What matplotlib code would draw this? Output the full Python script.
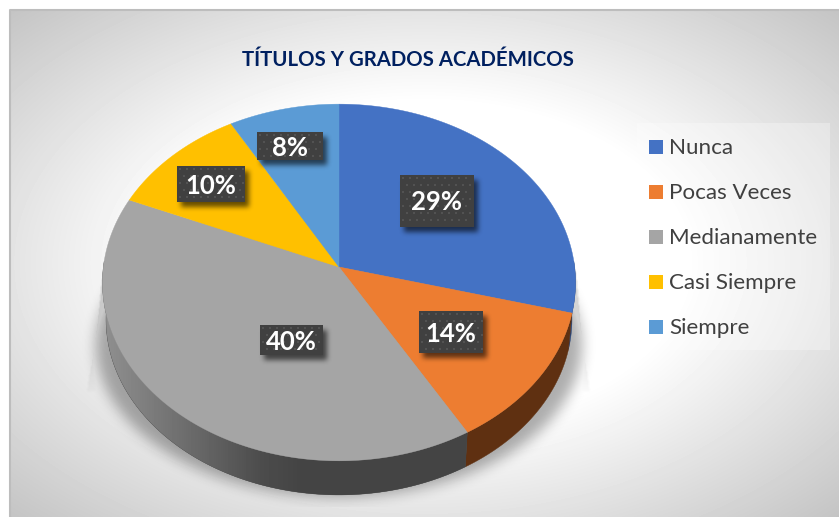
import numpy as np
import matplotlib
matplotlib.use("Agg")
import matplotlib.pyplot as plt
from matplotlib.colors import to_rgb
from matplotlib.patches import Polygon, Rectangle
from matplotlib.path import Path

# --------------------------------------------------------------
# Data
# --------------------------------------------------------------
title = "TÍTULOS Y GRADOS ACADÉMICOS"
categories = ["Nunca", "Pocas Veces", "Medianamente", "Casi Siempre", "Siempre"]
slice_shares = [29.1, 12.5, 39.8, 10.4, 8.2]
pct_labels = ["29%", "14%", "40%", "10%", "8%"]

colors = ["#4472C4", "#ED7D31", "#A5A5A5", "#FFC000", "#5B9BD5"]
side_colors = ["#294476", "#5F3011", "#444444", "#806000", "#2F5B85"]

W, H = 839, 517
plt.rcParams["font.family"] = ["Lato", "DejaVu Sans"]

fig = plt.figure(figsize=(W / 100, H / 100), dpi=100, facecolor="white")
ax = fig.add_axes([0, 0, 1, 1])
ax.axis("off")

# --------------------------------------------------------------
# Background gradient
# --------------------------------------------------------------
x0, y0 = 10, 10
xx, yy = np.meshgrid(np.arange(W) + 0.5, np.arange(H) + 0.5)
r = np.hypot((xx - 424) / 413, (yy - 263) / 253) / np.sqrt(2)
bg = np.clip(255 - (r - 0.45) * 107, 190, 255) / 255
bg_img = ax.imshow(bg, extent=(0, W, H, 0), cmap="gray", vmin=0, vmax=1, zorder=0, aspect="auto")
bg_img.set_clip_path(Rectangle((x0, y0), W - x0, H - y0, transform=ax.transData))
ax.plot([x0, x0, W], [H, y0, y0], color="#BDBDBD", lw=1.5, zorder=1)


# --------------------------------------------------------------
# Pie in perspective
# --------------------------------------------------------------
cx, cy, R, a, k = 339, 267, 235.6, 177, 0.0868
depth, shrink = 37, 0.985


def project(theta, lower=False):
    d = 1 + k * np.cos(theta)
    px = R * np.sin(theta) / d
    py = a * np.cos(theta) / d
    if lower:
        return cx + px * shrink, cy - py * shrink + depth
    return cx + px, cy - py


def blur(img, rad, passes=3):
    kernel = np.ones(2 * rad + 1) / (2 * rad + 1)
    for _ in range(passes):
        img = np.apply_along_axis(lambda v: np.convolve(v, kernel, mode="same"), 0, img)
        img = np.apply_along_axis(lambda v: np.convolve(v, kernel, mode="same"), 1, img)
    return img


def black_layer(alpha):
    rgba = np.zeros((H, W, 4))
    rgba[..., 3] = alpha
    return rgba


# soft shadow under the pie
t = np.linspace(0, 2 * np.pi, 200)
pts = np.column_stack([xx.ravel(), yy.ravel()])
shadow_pts = np.column_stack([339 + 243 * np.sin(t), 345 + 152 * np.cos(t)])
mask = Path(shadow_pts).contains_points(pts).reshape(xx.shape).astype(float)
alpha = blur(mask, 6) * 0.32
trap = Path([(104, 268), (575, 268), (590, 392), (87, 392)]).contains_points(pts).reshape(xx.shape).astype(float)
trap = blur(trap, 1, passes=1) * np.clip((400 - yy) / 70, 0, 1) * 0.17
alpha = np.maximum(alpha, trap)
alpha[yy > 507] = 0
ax.imshow(black_layer(alpha), extent=(0, W, H, 0), zorder=2, aspect="auto")

bounds = np.cumsum([0] + slice_shares) / sum(slice_shares) * 2 * np.pi

# side wall, only the front half is seen
for i, share in enumerate(slice_shares):
    lo, hi = max(bounds[i], np.radians(88)), min(bounds[i + 1], np.radians(272))
    if hi <= lo:
        continue
    steps = np.linspace(lo, hi, 100)
    xa, ya = project(steps)
    xb, yb = project(steps[::-1], lower=True)
    wall = Polygon(np.column_stack([np.r_[xa, xb], np.r_[ya, yb]]), fc=side_colors[i], ec=side_colors[i], lw=0.3, zorder=3)
    ax.add_patch(wall)
    if i == 2:
        # grey wall gets lighter toward the left
        ramp = np.interp(np.arange(W), [105, 130, 260, 300], [0.56, 0.52, 0.30, 0.267])
        wall_img = ax.imshow(np.tile(ramp, (H, 1)), extent=(0, W, H, 0), cmap="gray", vmin=0, vmax=1,
                             zorder=3.5, aspect="auto")
        wall_img.set_clip_path(wall)

# top of the pie
for i, col in enumerate(colors):
    th = np.linspace(bounds[i], bounds[i + 1], 120)
    px, py = project(th)
    ax.add_patch(Polygon(np.column_stack([np.r_[cx, px], np.r_[cy, py]]), fc=col, ec=col, lw=0.3, zorder=4))

# --------------------------------------------------------------
# Data labels
# --------------------------------------------------------------
label_boxes = [(400, 175, 74, 52), (419, 311, 64, 42), (260, 325, 63, 30), (177, 166, 68, 36), (257, 132, 66, 28)]
box_shadow = np.zeros((H, W))
for bx, by, bw, bh in label_boxes:
    box_shadow[by + 5:by + bh + 5, bx + 4:bx + bw + 4] = 1
ax.imshow(black_layer(blur(box_shadow, 2) * 0.6), extent=(0, W, H, 0), zorder=5, aspect="auto")

for text, (bx, by, bw, bh) in zip(pct_labels, label_boxes):
    ax.add_patch(Rectangle((bx, by), bw, bh, fc="#404040", lw=0, zorder=6))
    gx, gy = np.meshgrid(np.arange(bx + 3, bx + bw - 1, 7), np.arange(by + 3, by + bh - 1, 7))
    gx = gx + (np.arange(gx.shape[0])[:, None] % 2) * 3.5
    keep = gx < bx + bw - 1
    ax.scatter(gx[keep], gy[keep], s=2.5, marker="s", c="#525252", lw=0, zorder=7)
    ax.text(bx + bw / 2, by + bh / 2 + 1.5, text, color="white", fontsize=18.5, fontweight="bold",
            ha="center", va="center", zorder=8)

# --------------------------------------------------------------
# Title and legend
# --------------------------------------------------------------
ax.text(408, 60, title, color="#002060", fontsize=14.7, fontweight="bold", ha="center", va="center", zorder=8)

ax.add_patch(Rectangle((637, 123), 193, 227, fc="white", alpha=0.3, lw=0, zorder=3))
for i, name in enumerate(categories):
    ly = 147 + i * 45
    ax.add_patch(Rectangle((649, ly - 7), 14, 14, fc=colors[i], lw=0, zorder=5))
    ax.text(669, ly + 1, name, color="#404040", fontsize=16.1, ha="left", va="center", zorder=8)

ax.set_xlim(0, W)
ax.set_ylim(H, 0)
plt.savefig("out.png", dpi=100)
